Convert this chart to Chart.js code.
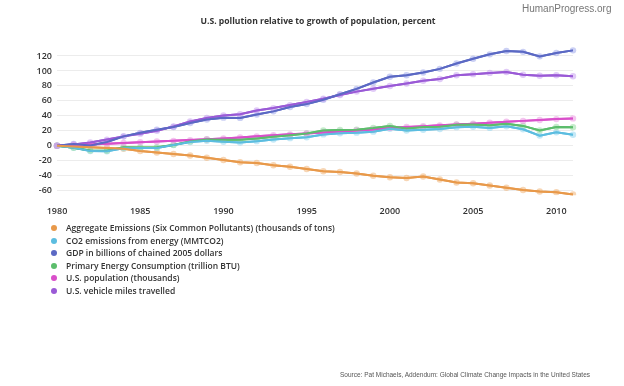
<!DOCTYPE html>
<html lang="en">
<head>
<meta charset="UTF-8">
<title>U.S. pollution relative to growth of population</title>
<script src="https://cdn.jsdelivr.net/npm/chart.js@4"></script>
<style>
    body { margin: 0; background: #fff; }
    #box { position: relative; width: 624px; height: 386px; font-family: 'Open Sans', sans-serif; }
    #box canvas { position: absolute; left: 0; top: 0; }
    #titulo { position: absolute; left: 6px; width: 624px; top: 15px; text-align: center; font-size: 8.6px; font-weight: 700; color: #333; }
    #marca { position: absolute; left: 522px; top: 3px; font: 10px 'Liberation Sans', Arial, sans-serif; color: #777; }
    #legenda { position: absolute; left: 51px; top: 222px; }
    .item { height: 12.6px; line-height: 12.6px; font-size: 8.5px; font-weight: 600; color: #333; white-space: nowrap; }
    .bola { display: inline-block; width: 6px; height: 6px; border-radius: 50%; margin-right: 9px; vertical-align: 0px; }
    #fonte { position: absolute; left: 340px; top: 371px; font: 6.5px 'Liberation Sans', Arial, sans-serif; color: #555; white-space: nowrap; }
</style>
</head>
<body>
<div id="box">
    <canvas id="grafico" width="624" height="386"></canvas>
    <div id="titulo">U.S. pollution relative to growth of population, percent</div>
    <div id="marca">HumanProgress.org</div>
    <div id="legenda"></div>
    <div id="fonte">Source: Pat Michaels, Addendum: Global Climate Change Impacts in the United States</div>
</div>

<script>
    var anos = [1980, 1981, 1982, 1983, 1984, 1985, 1986, 1987, 1988, 1989, 1990, 1991, 1992, 1993, 1994, 1995,
        1996, 1997, 1998, 1999, 2000, 2001, 2002, 2003, 2004, 2005, 2006, 2007, 2008, 2009, 2010, 2011];
    var ticksY = [-60, -40, -20, 0, 20, 40, 60, 80, 100, 120];

    var emissoes = [0, -1, -2, -3, -4, -7, -9, -11, -13, -16, -19, -22, -23, -26, -28, -31,
        -34, -35, -37, -40, -42, -43, -41, -45, -49, -50, -53, -56, -59, -61, -62, -65];
    var co2 = [0, -2.7, -7.1, -7.2, -3.3, -2.9, -2.8, 1.0, 5.0, 6.8, 5.5, 4.4, 6.2, 8.4, 10.2, 11.4,
        15.2, 16.8, 17.6, 18.9, 22.7, 20.5, 21.5, 22.5, 24.9, 25.5, 23.9, 26, 22.1, 13.6, 18, 14.7];
    var pib = [0, 2.5, 0.5, 5.1, 12.6, 17.3, 21.4, 25.2, 30.4, 35.1, 37.6, 37.3, 41.9, 46, 51.9, 55.7,
        61.6, 68.8, 76.1, 84.6, 92.3, 94.3, 97.9, 102.8, 110, 116.4, 122.2, 126.6, 125.5, 119.5, 124, 127.5];
    var energia = [0, -2.6, -6.4, -6.7, -1.9, -2.2, -1.8, 1.2, 5.9, 8.5, 8.2, 8.1, 9.9, 12.0, 14.1, 16.5,
        20.4, 21.1, 21.6, 23.7, 26.5, 23.2, 25.0, 25.4, 28.2, 28.4, 27.4, 29.3, 26.6, 20.6, 25.1, 24.8];
    var populacao = [0, 1, 1.9, 2.9, 3.8, 4.7, 5.7, 6.6, 7.6, 8.7, 9.8, 11.2, 12.6, 14, 15.3, 16.5,
        17.7, 19, 20.4, 21.7, 23.9, 25.1, 26.2, 27.3, 28.5, 29.6, 30.8, 32.1, 33.3, 34.5, 35.7, 36.6];
    var milhas = [0, 1.8, 4.5, 8.3, 12.6, 16.2, 20.2, 25.8, 32.6, 37.3, 40.4, 42.2, 47.2, 50.4, 54.4, 58.7,
        62.8, 67.8, 72.4, 76.2, 79.9, 83.2, 87, 89.3, 94.2, 95.7, 97.4, 98.5, 95, 93.6, 94.3, 92.9];

    var nomes = [
        'Aggregate Emissions (Six Common Pollutants) (thousands of tons)',
        'CO2 emissions from energy (MMTCO2)',
        'GDP in billions of chained 2005 dollars',
        'Primary Energy Consumption (trillion BTU)',
        'U.S. population (thousands)',
        'U.S. vehicle miles travelled'
    ];
    var series = [emissoes, co2, pib, energia, populacao, milhas];
    var cores = ['#e8994a', '#5cbde0', '#5b69c4', '#5cbd6c', '#d94fca', '#9a5ad6'];
    var coresClaras = ['rgba(240,180,120,0.55)', 'rgba(150,215,240,0.55)', 'rgba(160,170,235,0.55)',
        'rgba(150,220,160,0.55)', 'rgba(235,150,225,0.55)', 'rgba(200,160,240,0.55)'];

    var datasets = [];
    for (var i = 0; i < series.length; i++) {
        datasets.push({
            label: nomes[i],
            data: series[i],
            borderColor: cores[i],
            backgroundColor: cores[i],
            borderWidth: 2,
            pointRadius: 3.2,
            pointBorderWidth: 0,
            pointBackgroundColor: coresClaras[i],
            tension: 0,
            order: 5 - i
        });
    }

    // legenda em html, uma linha por serie
    var html = '';
    for (var i = 0; i < nomes.length; i++) {
        html += '<div class="item"><span class="bola" style="background:' + cores[i] + '"></span>' + nomes[i] + '</div>';
    }
    legenda.innerHTML = html;

    // redesenha as linhas por cima das bolinhas
    var linhasPorCima = {
        id: 'linhasPorCima',
        afterDatasetsDraw: function (chart) {
            var ctx = chart.ctx;
            ctx.save();
            ctx.beginPath();
            ctx.rect(chart.chartArea.left - 5, chart.chartArea.top - 5, chart.chartArea.width + 10, chart.chartArea.height + 10);
            ctx.clip();
            for (var i = chart.data.datasets.length - 1; i >= 0; i--) {
                chart.getDatasetMeta(i).dataset.draw(ctx, chart.chartArea);
            }
            ctx.restore();
        }
    };

    new Chart(grafico, {
        type: 'line',
        data: { labels: anos, datasets: datasets },
        plugins: [linhasPorCima],
        options: {
            responsive: false,
            animation: false,
            layout: { padding: { left: 0, right: 51, top: 47, bottom: 166 } },
            plugins: {
                legend: { display: false },
                tooltip: { enabled: false }
            },
            scales: {
                x: {
                    grid: { display: false },
                    border: { display: false },
                    ticks: {
                        color: '#333',
                        font: { family: 'Open Sans', size: 9, weight: '600' },
                        autoSkip: false,
                        maxRotation: 0,
                        padding: 3,
                        callback: function (v, i) { return anos[i] % 5 === 0 ? anos[i] : ''; }
                    }
                },
                y: {
                    min: -66,
                    max: 132,
                    afterBuildTicks: function (scale) {
                        scale.ticks = ticksY.map(function (v) { return { value: v }; });
                    },
                    afterFit: function (scale) { scale.width = 57; },
                    grid: { color: '#ececec', drawTicks: false },
                    border: { display: false },
                    ticks: {
                        color: '#333',
                        padding: 5,
                        font: { family: 'Open Sans', size: 9, weight: '600' }
                    }
                }
            }
        }
    });
</script>
</body>
</html>
